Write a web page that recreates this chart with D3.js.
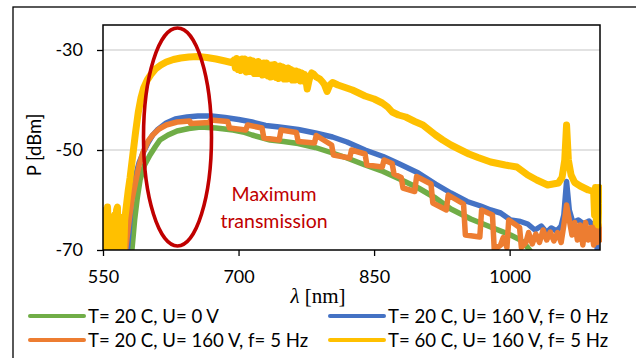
<!DOCTYPE html>
<html><head><meta charset="utf-8">
<script src="https://cdn.jsdelivr.net/npm/d3@7/dist/d3.min.js"></script>
<style>
html,body{margin:0;padding:0;background:#fff;}
svg{display:block;}
text{font-family:Lato,"Open Sans",sans-serif;fill:#000;}
</style></head><body>
<svg id="chart" width="636" height="358"></svg>
<script>
// ---------------- data ----------------
const xTicks = [550, 700, 850, 1000];
const yTicks = [-70, -50, -30];
const seriesLabels = ["T= 20 C, U= 0 V", "T= 20 C, U= 160 V, f= 0 Hz", "T= 20 C, U= 160 V, f= 5 Hz", "T= 60 C, U= 160 V, f= 5 Hz"];
const seriesColors = ["#70AD47", "#4472C4", "#ED7D31", "#FFC000"];
const annotationLines = ["Maximum", "transmission"];

// [wavelength nm, power dBm]
const green = [[550,-72],[580,-72],[582,-70],[585,-64],[588,-59.5],[591,-56],[596,-53],[602,-51],[608,-49.3],[613,-48],[622,-47],[632,-46.2],[645,-45.7],[658,-45.4],[675,-45.6],[694,-46],[705,-46.4],[715,-47],[725,-47.5],[735,-48],[750,-48.3],[766,-48.7],[785,-49.5],[804,-50.6],[820,-51.6],[840,-53],[860,-54.3],[877,-55.7],[899,-57.6],[918,-59.6],[935,-61.8],[957,-63.8],[979,-65.4],[1001,-67],[1012,-68],[1020,-69.5],[1026,-71],[1100,-72]];

const blue = [[550,-72],[576,-72],[579,-66],[581,-61],[583,-57.5],[587,-54.5],[590,-52.5],[595,-50.3],[600,-48.5],[605,-47],[610,-46],[620,-44.6],[630,-43.8],[643,-43.4],[655,-43.2],[670,-43.2],[685,-43.5],[700,-43.9],[715,-44.4],[730,-45.1],[745,-45.4],[766,-45.9],[785,-46.6],[804,-47.4],[820,-48.4],[840,-50],[860,-51.3],[877,-52.7],[899,-54.6],[918,-56.8],[935,-58.6],[953,-60.3],[968,-61.2],[979,-62],[990,-62.6],[1001,-64],[1012,-64.3],[1020,-64.8],[1028,-66],[1035,-65.2],[1041,-66.5],[1046,-65.6],[1052,-66.2],[1057,-65.2],[1060,-63],[1063,-56.3],[1066,-62],[1070,-64.5],[1076,-64],[1082,-64.8],[1088,-64.2],[1092,-65],[1095,-66],[1097,-70],[1100,-72]];

const orange = [[550,-72],[555,-72],[556,-63.6],[558,-64.2],[559,-72],[573,-72],[574,-65],[575,-70],[577,-67],[579,-64],[582,-60],[586,-56.5],[590,-53],[594,-50.6],[600,-48.2],[605,-47],[612,-45.8],[620,-45],[632,-44.4],[646,-44.2],[647,-44.7],[668,-44.5],[669,-44],[688,-44.3],[690,-45.6],[708,-46],[710,-45],[726,-45.6],[728,-47.6],[745,-48],[747,-46],[764,-46.5],[766,-48.3],[784,-48.6],[786,-47.1],[803,-49],[805,-51],[823,-51.6],[825,-50],[840,-50.8],[842,-53],[859,-53.4],[861,-52],[870,-52.7],[872,-54.8],[880,-55.5],[882,-57.6],[895,-58.3],[897,-55.3],[913,-56.8],[915,-60.6],[930,-62],[932,-59],[949,-60.8],[951,-67],[967,-67.4],[969,-62],[981,-63],[983,-70],[990,-69],[993,-67.5],[997,-69.5],[999,-64],[1011,-65.5],[1013,-69.5],[1018,-68.5],[1021,-66.5],[1025,-68.8],[1029,-66.8],[1033,-68.5],[1037,-66],[1041,-68],[1045,-66.4],[1049,-68.2],[1053,-66.5],[1057,-68.5],[1060,-65],[1063,-61],[1066,-64],[1069,-67],[1072,-64.5],[1075,-68],[1078,-65],[1081,-69],[1084,-64.5],[1087,-68],[1090,-65.5],[1093,-69],[1095,-64.5],[1097,-68.5],[1099,-65],[1100,-68]];

const yellow = [[550,-71],[551,-64],[552,-70],[553,-62],[554,-70],[555,-61.4],[556,-66],[557,-70],[558,-63.5],[559,-70],[561,-64],[562,-70],[563,-63],[564,-69],[565,-62],[566,-61.4],[567,-70],[568,-64],[569,-70],[570,-63.5],[571,-70],[572,-65],[573,-70],[574,-64],[576,-61],[578,-58],[580,-55.5],[583,-51],[586,-46.5],[589,-42.5],[592,-39.6],[595,-37.6],[599,-36],[603,-34.9],[608,-33.8],[614,-33],[620,-32.4],[628,-31.9],[636,-31.6],[645,-31.4],[655,-31.3],[665,-31.5],[675,-31.8],[685,-32.2],[692,-32.5],
[695,-32.0],[696.5,-33.6],[698,-31.7],[699.5,-33.9],[701,-32.0],[702.5,-34.1],[704,-31.8],[705.5,-33.9],[707,-31.8],[708.5,-34.4],[710,-32.2],[711.5,-34.3],[713,-32.0],[714.5,-34.3],[716,-32.2],[717.5,-34.7],[719,-32.6],[720.5,-34.7],[722,-32.3],[723.5,-34.7],[725,-32.7],[726.5,-35.0],[728,-32.6],[729.5,-34.7],[731,-32.6],[732.5,-35.2],[734,-33.0],[735.5,-35.4],[737,-33.0],[738.5,-35.2],[740,-32.9],[741.5,-35.5],[743,-33.4],[744.5,-35.7],[746,-33.2],[747.5,-35.5],[749,-33.4],[750.5,-35.8],[752,-33.7],[753.5,-35.8],[755,-33.6],[756.5,-35.7],[758,-33.9],[759.5,-36.0],[761,-34.2],[762.5,-36.0],[764,-34.2],[765.5,-35.9],[767,-34.4],[768.5,-36.2],[770,-34.6],[771.5,-36.2],[773,-34.9],[774.5,-35.9],[776,-37.8],[777.5,-36.5],[779,-35.4],[781,-34.6],[783,-34.8],[786,-35.4],[790,-35.8],[793,-36.4],[795,-36.9],[798,-38.3],[801,-37],[804,-36.5],[810,-37],[818,-37.5],[826,-38],[833,-38.6],[840,-39.2],[850,-39.8],[859,-40.6],[865,-41.4],[870,-42.4],[877,-43],[885,-43.4],[895,-44.3],[904,-45],[911,-46],[918,-47],[926,-48],[935,-49],[946,-50],[955,-50.8],[965,-51.5],[979,-52.4],[995,-53],[1008,-53.4],[1014,-54.2],[1020,-55],[1030,-56],[1042,-57],[1048,-56.8],[1054,-56.6],[1058,-55.5],[1061,-52],[1063,-45],[1065,-52],[1068,-55],[1072,-56.5],[1078,-57.2],[1087,-58],[1091,-58.2],[1093,-58.5],[1094,-63],[1095,-57.5],[1096,-64.5],[1097,-58],[1098,-65],[1099,-57.5],[1100,-60]];

const seriesData = [green, blue, orange, yellow];
const seriesWidths = [5.5, 5.5, 5.5, 7];

// ---------------- layout ----------------
const svg = d3.select("#chart");
const plot = {left: 103, right: 600, top: 25, bottom: 250};
const x = d3.scaleLinear().domain([550, 1100]).range([plot.left, plot.right]);
const y = d3.scaleLinear().domain([-70, -25]).range([plot.bottom, plot.top]);

// outer chart border
svg.append("rect").attr("x", 13).attr("y", 7).attr("width", 640).attr("height", 360)
  .attr("fill", "#fff").attr("stroke", "#000").attr("stroke-width", 1.3);

// gridlines
svg.append("g").selectAll("line").data(yTicks.filter(d => d !== -70)).join("line")
  .attr("x1", plot.left).attr("x2", plot.right)
  .attr("y1", d => y(d)).attr("y2", d => y(d))
  .attr("stroke", "#D9D9D9").attr("stroke-width", 1.3);

// clip
svg.append("clipPath").attr("id", "clip").append("rect")
  .attr("x", plot.left).attr("y", plot.top)
  .attr("width", plot.right - plot.left + 2).attr("height", plot.bottom - plot.top);

const line = d3.line().x(d => x(d[0])).y(d => y(d[1]));
svg.append("g").attr("clip-path", "url(#clip)")
  .selectAll("path").data(seriesData).join("path")
  .attr("d", line)
  .attr("fill", "none")
  .attr("stroke", (d, i) => seriesColors[i])
  .attr("stroke-width", (d, i) => seriesWidths[i])
  .attr("stroke-linejoin", "round")
  .attr("stroke-linecap", "round");

// plot border
svg.append("rect").attr("x", plot.left).attr("y", plot.top)
  .attr("width", plot.right - plot.left).attr("height", plot.bottom - plot.top)
  .attr("fill", "none").attr("stroke", "#000").attr("stroke-width", 1.5);

// axes
const yAxis = d3.axisLeft(y).tickValues(yTicks).tickSize(6).tickPadding(14).tickFormat(d => String(d));
const gy = svg.append("g").attr("transform", `translate(${plot.left},0)`).call(yAxis);
const xAxis = d3.axisBottom(x).tickValues(xTicks).tickSize(6).tickPadding(14).tickFormat(d => String(d));
const gx = svg.append("g").attr("transform", `translate(0,${plot.bottom})`).call(xAxis);
[gx, gy].forEach(g => {
  g.select(".domain").remove();
  g.selectAll(".tick line").attr("stroke", "#000").attr("stroke-width", 1.3);
  g.selectAll(".tick text").style("font-family", "Lato").style("font-size", "18px").attr("fill", "#000");
});

// axis titles
const xt = svg.append("text").attr("x", 318).attr("y", 303).attr("text-anchor", "middle")
  .style("font-family", "'Liberation Serif','DejaVu Serif',serif").style("font-size", "21px");
xt.append("tspan").style("font-style", "italic").text("λ");
xt.append("tspan").text(" [nm]");

svg.append("text").attr("transform", "translate(41,145) rotate(-90)").attr("text-anchor", "middle")
  .style("font-size", "18.5px").text("P [dBm]");

// ellipse annotation
svg.append("ellipse").attr("cx", 177.5).attr("cy", 137).attr("rx", 34).attr("ry", 109)
  .attr("fill", "none").attr("stroke", "#C00000").attr("stroke-width", 3.6);
svg.append("g").selectAll("text").data(annotationLines).join("text")
  .attr("x", 274).attr("y", (d, i) => 200.5 + i * 27)
  .attr("text-anchor", "middle")
  .style("fill", "#C00000").style("font-size", "19.5px").text(d => d);

// legend
const leg = svg.append("g").selectAll("g").data(seriesLabels).join("g")
  .attr("transform", (d, i) => `translate(${i % 2 === 0 ? 30 : 330},${i < 2 ? 316 : 340})`);
leg.append("line").attr("x1", 0).attr("x2", 54).attr("y1", 0).attr("y2", 0)
  .attr("stroke", (d, i) => seriesColors[i]).attr("stroke-width", 4).attr("stroke-linecap", "round");
leg.append("text").attr("x", 58).attr("y", 6.5).style("font-size", "18.6px").text(d => d);
</script>
</body></html>
